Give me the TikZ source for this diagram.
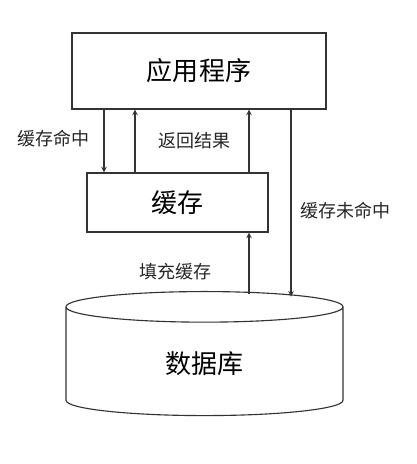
\documentclass[tikz,border=0pt]{standalone}
\usepackage{fontspec}
\newfontfamily\cjk{Noto Sans CJK SC}
\usetikzlibrary{shapes.geometric}
\begin{document}
\begin{tikzpicture}[x=0.025cm,y=0.025cm]
        \tikzstyle{box} = [rectangle, draw=black!80, thick, text centered, font=\cjk\fontsize{18.5}{20}\selectfont]
        \tikzstyle{store} = [cylinder, shape border rotate=90, aspect=0.35, draw=black!80, thick, font=\cjk\fontsize{18.5}{20}\selectfont]
        \tikzstyle{lbl} = [font=\cjk\fontsize{12.8}{14}\selectfont, text=black!85]
        \tikzstyle{arrow} = [thick,draw=black!80,->,>=stealth]

                \useasboundingbox (0,0) rectangle (416,464);
                \node (app) [box, minimum width=6.35cm, minimum height=1.9cm] at (199,393) {应用程序};
                \node (cache) [box, minimum width=4.525cm, minimum height=1.475cm] at (177.5,261.5) {缓存};
                \node (db) [store, minimum width=6.925cm, minimum height=3.1cm, anchor=north] at (204.5,173) {数据库};

                \coordinate (hit) at (104,0);
                \coordinate (back) at (135,0);
                \coordinate (result) at (249,0);
                \coordinate (miss) at (291,0);

                \draw[arrow] (app.south -| hit) -- (cache.north -| hit);
                \draw[arrow] (cache.north -| back) -- (app.south -| back);
                \draw[arrow] (cache.north -| result) -- (app.south -| result);
                \draw[arrow] ([yshift=-2]db.north -| result) -- (cache.south -| result);
                \draw[arrow] (app.south -| miss) -- ([yshift=-4]db.north -| miss);

                \node (lhit) [lbl] at (53,325) {缓存命中};
                \node (lresult) [lbl] at (194,323) {返回结果};
                \node (lmiss) [lbl] at (345,253) {缓存未命中};
                \node (lfill) [lbl] at (175,192) {填充缓存};
    \end{tikzpicture}
\end{document}
